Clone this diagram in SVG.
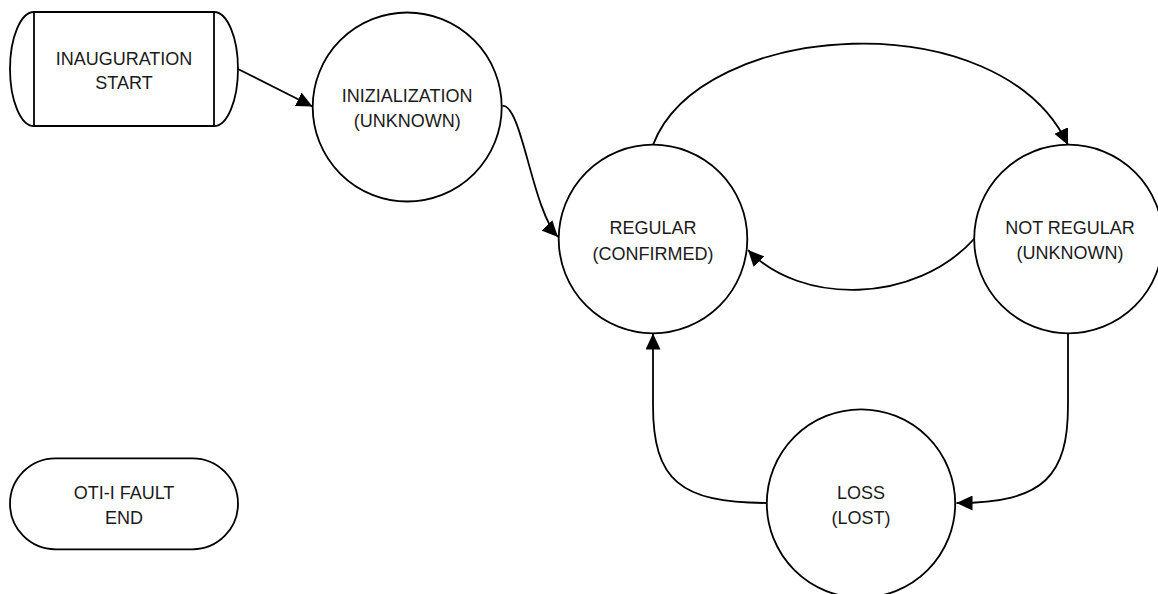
<svg xmlns="http://www.w3.org/2000/svg" width="1158" height="594" viewBox="0 0 1158 594">
  <style>
    .shape { fill: #ffffff; stroke: #000000; stroke-width: 1.8; }
    .edge { fill: none; stroke: #000000; stroke-width: 1.8; }
    .label { font-family: "Liberation Sans", Arial, sans-serif; font-size: 18px; fill: #1a1a1a; text-anchor: middle; }
  </style>
  <defs>
    <marker id="arrow" viewBox="0 0 16 15" markerUnits="userSpaceOnUse" markerWidth="16" markerHeight="15" refX="16" refY="7.5" orient="auto">
      <path d="M0,0 L16,7.5 L0,15 Z" fill="#000000"/>
    </marker>
  </defs>
  <rect x="0" y="0" width="1158" height="594" fill="#ffffff"/>

  <g id="connectors">
    <path class="edge" d="M238,69 L312.5,106.5" marker-end="url(#arrow)"/>
    <path class="edge" d="M502.5,106 C522,104 532,210 558,237" marker-end="url(#arrow)"/>
    <path class="edge" d="M653,145 C700,20 1000,0 1068,145" marker-end="url(#arrow)"/>
    <path class="edge" d="M975,238 C915,305 800,305 748,250" marker-end="url(#arrow)"/>
    <path class="edge" d="M1068,333 L1068,405 C1068,475 1045,503 956.5,503" marker-end="url(#arrow)"/>
    <path class="edge" d="M767,503 C680,503 653,480 653,405 L653,333.5" marker-end="url(#arrow)"/>
  </g>

  <g id="inauguration-start">
    <path class="shape" d="M34,12 L214,12 A24,57 0 0 1 214,126 L34,126 A24,57 0 0 1 34,12 Z"/>
    <line class="edge" x1="34" y1="12" x2="34" y2="126"/>
    <line class="edge" x1="214" y1="12" x2="214" y2="126"/>
    <text class="label" x="124" y="65">INAUGURATION</text>
    <text class="label" x="124" y="89">START</text>
  </g>

  <g id="inizialization">
    <circle class="shape" cx="407.2" cy="107" r="94.5"/>
    <text class="label" x="407.2" y="102">INIZIALIZATION</text>
    <text class="label" x="407.2" y="127">(UNKNOWN)</text>
  </g>

  <g id="regular">
    <circle class="shape" cx="653" cy="239" r="94.3"/>
    <text class="label" x="653" y="234">REGULAR</text>
    <text class="label" x="653" y="260">(CONFIRMED)</text>
  </g>

  <g id="not-regular">
    <circle class="shape" cx="1068.5" cy="239" r="94.3"/>
    <text class="label" x="1070" y="234">NOT REGULAR</text>
    <text class="label" x="1070" y="259">(UNKNOWN)</text>
  </g>

  <g id="loss">
    <circle class="shape" cx="861" cy="503.5" r="94.2"/>
    <text class="label" x="861" y="498.5">LOSS</text>
    <text class="label" x="861" y="523.5">(LOST)</text>
  </g>

  <g id="oti-fault-end">
    <rect class="shape" x="10" y="458.3" width="228" height="91" rx="45.5" ry="45.5"/>
    <text class="label" x="124" y="498.5">OTI-I FAULT</text>
    <text class="label" x="124" y="523.5">END</text>
  </g>
</svg>
